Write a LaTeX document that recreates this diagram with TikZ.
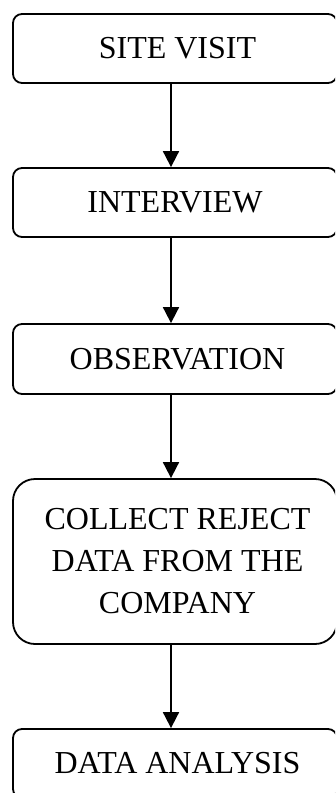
\documentclass[tikz,border=0pt]{standalone}
\usepackage{fontspec}
\setmainfont{Liberation Serif}
\usetikzlibrary{arrows.meta}
\begin{document}
\begin{tikzpicture}[x=1pt,y=-1pt,
  stagebox/.style={draw,line width=1.8pt,rounded corners=9pt,minimum width=324pt,
    inner sep=0pt,align=center,font=\fontsize{32}{42}\selectfont},
  flow/.style={line width=1.8pt,-{Triangle[width=16pt,length=16pt]}}]
\clip (0,0) rectangle (335,793);
\node[stagebox,minimum height=69pt] (visit) at (175,48.5) {\hspace*{5pt}SITE VISIT};
\node[stagebox,minimum height=69pt] (interview) at (175,202.5) {INTERVIEW};
\node[stagebox,minimum height=70pt] (observe) at (175,359) {\hspace*{5pt}OBSERVATION};
\node[stagebox,minimum height=165pt,rounded corners=22pt] (collect) at (175,561.5)
  {\hspace*{5pt}COLLECT REJECT\\\hspace*{5pt}DATA FROM THE\\\hspace*{5pt}COMPANY};
\node[stagebox,minimum height=69pt] (analysis) at (175,763.5) {\hspace*{5pt}DATA ANALYSIS};
\draw[flow] ([xshift=-4pt]visit.south) -- ([xshift=-4pt]interview.north);
\draw[flow] ([xshift=-4pt]interview.south) -- ([xshift=-4pt]observe.north);
\draw[flow] ([xshift=-4pt]observe.south) -- ([xshift=-4pt]collect.north);
\draw[flow] ([xshift=-4pt]collect.south) -- ([xshift=-4pt]analysis.north);
\end{tikzpicture}
\end{document}
